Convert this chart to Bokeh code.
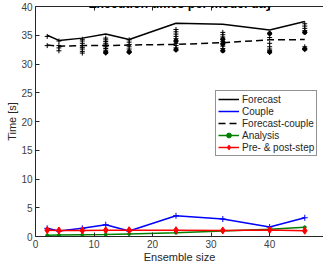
from bokeh.plotting import figure
from bokeh.models import (Range1d, FixedTicker, LinearAxis, Legend, LegendItem, Label)
from bokeh.embed import file_html
from bokeh.resources import INLINE

# Ensemble sizes tested
ensemble_size = [2, 4, 8, 12, 16, 24, 32, 40, 46]

# Mean execution times per model day [s]
forecast = [35.0, 34.1, 34.5, 35.2, 34.25, 37.1, 36.9, 35.9, 37.4]
couple = [1.42, 0.95, 1.42, 2.05, 0.95, 3.6, 3.04, 1.65, 3.26]
forecast_couple = [33.3, 33.1, 33.2, 33.2, 33.3, 33.4, 33.7, 34.2, 34.25]
analysis = [0.2, 0.25, 0.3, 0.35, 0.45, 0.65, 0.95, 1.25, 1.6]
pre_post = [1.1, 1.05, 1.05, 1.1, 1.1, 1.1, 1.05, 1.15, 1.0]

# Individual member forecast times
member_size = ([2] * 2 + [4] * 4 + [8] * 8 + [12] * 10 + [16] * 7
               + [24] * 10 + [32] * 9 + [40] * 7 + [46] * 8)
member_time = [34.8, 33.2,
               34.0, 33.2, 32.8, 32.3,
               34.3, 34.0, 33.6, 33.2, 32.9, 32.6, 32.2, 31.9,
               34.5, 34.2, 33.9, 33.6, 33.3, 33.0, 32.7, 32.4, 32.1, 31.9,
               34.2, 33.8, 33.4, 33.0, 32.6, 32.2, 32.0,
               36.0, 35.6, 35.2, 34.8, 34.4, 34.0, 33.6, 33.2, 32.8, 32.4,
               35.5, 35.1, 34.7, 34.3, 33.9, 33.5, 33.1, 32.7, 32.3,
               35.3, 34.6, 33.6, 33.0, 32.6, 32.3, 32.0,
               37.0, 36.6, 36.2, 35.8, 35.5, 33.0, 32.7, 32.5]
# Members whose times pile up on top of each other
cluster_size = [12, 16, 24, 24, 32, 32, 32, 40, 40, 46, 46]
cluster_time = [32.0, 32.1, 34.0, 32.5, 34.3, 33.5, 32.3, 35.3, 32.1, 35.5, 32.6]

x_ticks = [0, 10, 20, 30, 40, 50]
y_ticks = [0, 5, 10, 15, 20, 25, 30, 35, 40]

FONT = "Liberation Sans"

p = figure(width=323, height=265, output_backend="svg", toolbar_location=None,
           x_range=Range1d(0, 49.2), y_range=Range1d(0, 40),
           min_border_left=35, min_border_right=0, min_border_top=6,
           min_border_bottom=28)
p.background_fill_color = "white"
p.border_fill_color = "white"
p.outline_line_color = None
p.grid.visible = False

for ax, ticks in ((p.xaxis[0], x_ticks), (p.yaxis[0], y_ticks)):
    ax.ticker = FixedTicker(ticks=ticks)
    ax.major_tick_in = 4
    ax.major_tick_out = 0
    ax.minor_tick_line_color = None
    ax.axis_line_color = "#262626"
    ax.major_tick_line_color = "#262626"
    ax.major_label_text_font = FONT
    ax.major_label_text_font_size = "10px"
    ax.major_label_text_color = "#404040"
    ax.axis_label_text_font = FONT
    ax.axis_label_text_font_size = "11px"
    ax.axis_label_text_font_style = "normal"
    ax.axis_label_text_color = "#262626"

p.xaxis.axis_label = "Ensemble size"
p.yaxis.axis_label = "Time [s]"
p.xaxis.major_label_standoff = 3
p.xaxis.axis_label_standoff = 0
p.yaxis.major_label_standoff = 3
p.yaxis.axis_label_standoff = 0

# Upper box edge with unlabeled ticks
top = LinearAxis(ticker=FixedTicker(ticks=[], minor_ticks=x_ticks),
                 major_tick_line_color=None, minor_tick_in=4, minor_tick_out=0,
                 minor_tick_line_color="#262626", axis_line_color="#262626",
                 major_label_standoff=0)
p.add_layout(top, "above")

# Forecast-couple and member spread
r_fc = p.line(ensemble_size, forecast_couple, line_color="black", line_width=1.5,
              line_dash="7 4")
p.scatter(member_size, member_time, marker="cross", size=5, line_color="black",
          line_width=1)
p.scatter(cluster_size, cluster_time, marker="circle", size=4, fill_color="black",
          line_color="black")

r_f = p.line(ensemble_size, forecast, line_color="black", line_width=1.5)

r_c = p.line(ensemble_size, couple, line_color="#0000ff", line_width=1.5)
p.scatter(ensemble_size, couple, marker="cross", size=6, line_color="#0000ff")

r_a = p.line(ensemble_size, analysis, line_color="#008000", line_width=1.5)
r_am = p.scatter(ensemble_size, analysis, marker="circle", size=3,
                 fill_color="#008000", line_color="#008000")

r_p = p.line(ensemble_size, pre_post, line_color="#ff0000", line_width=1.5)
r_pm = p.scatter(ensemble_size, pre_post, marker="diamond", size=7,
                 fill_color="#ff0000", line_color="#ff0000")

legend = Legend(items=[
    LegendItem(label="Forecast", renderers=[r_f]),
    LegendItem(label="Couple", renderers=[r_c]),
    LegendItem(label="Forecast-couple", renderers=[r_fc]),
    LegendItem(label="Analysis", renderers=[r_a, r_am]),
    LegendItem(label="Pre- & post-step", renderers=[r_p, r_pm]),
], location=(180, 80))
legend.label_text_font = FONT
legend.label_text_font_size = "10px"
legend.label_text_color = "#262626"
legend.label_height = 12
legend.glyph_height = 12
legend.glyph_width = 21
legend.label_standoff = 3
legend.spacing = 0
legend.padding = 2
legend.margin = 0
legend.border_line_color = "#262626"
legend.border_line_width = 1
legend.background_fill_alpha = 1
p.add_layout(legend, "center")

title = Label(x=145, y=232.5, x_units="screen", y_units="screen",
              text="Execution times per model day", text_font=FONT,
              text_font_size="12.5px", text_font_style="bold",
              text_align="center", text_baseline="alphabetic", text_color="black")
p.add_layout(title)

open("out.html", "w").write(file_html(p, INLINE))
